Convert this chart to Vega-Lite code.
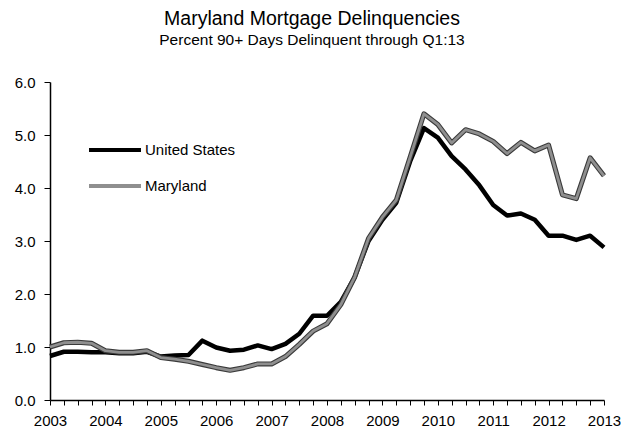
{
  "$schema": "https://vega.github.io/schema/vega-lite/v6.json",
  "width": 554,
  "height": 318,
  "autosize": {"type": "none"},
  "padding": {"left": 50, "top": 82, "right": 17, "bottom": 27},
  "background": "white",
  "config": {
    "font": "Liberation Sans",
    "view": {"stroke": null},
    "axis": {"grid": false, "domainColor": "black", "tickColor": "black", "labelColor": "black", "labelFontSize": 15, "domainWidth": 1.5, "tickWidth": 1}
  },
  "title": {
    "text": "Maryland Mortgage Delinquencies",
    "subtitle": "Percent 90+ Days Delinquent through Q1:13",
    "fontSize": 19.5,
    "fontWeight": "normal",
    "subtitleFontSize": 15.5,
    "subtitlePadding": 3,
    "color": "black",
    "subtitleColor": "black",
    "anchor": "middle",
    "frame": "group",
    "dx": -15,
    "offset": 26
  },
  "data": {
    "values": [
      {"t": 2003.00, "series": "United States", "v": 0.83}, {"t": 2003.00, "series": "Maryland", "v": 1.00},
      {"t": 2003.25, "series": "United States", "v": 0.91}, {"t": 2003.25, "series": "Maryland", "v": 1.08},
      {"t": 2003.50, "series": "United States", "v": 0.91}, {"t": 2003.50, "series": "Maryland", "v": 1.09},
      {"t": 2003.75, "series": "United States", "v": 0.90}, {"t": 2003.75, "series": "Maryland", "v": 1.07},
      {"t": 2004.00, "series": "United States", "v": 0.90}, {"t": 2004.00, "series": "Maryland", "v": 0.93},
      {"t": 2004.25, "series": "United States", "v": 0.88}, {"t": 2004.25, "series": "Maryland", "v": 0.90},
      {"t": 2004.50, "series": "United States", "v": 0.88}, {"t": 2004.50, "series": "Maryland", "v": 0.90},
      {"t": 2004.75, "series": "United States", "v": 0.91}, {"t": 2004.75, "series": "Maryland", "v": 0.93},
      {"t": 2005.00, "series": "United States", "v": 0.82}, {"t": 2005.00, "series": "Maryland", "v": 0.80},
      {"t": 2005.25, "series": "United States", "v": 0.84}, {"t": 2005.25, "series": "Maryland", "v": 0.77},
      {"t": 2005.50, "series": "United States", "v": 0.85}, {"t": 2005.50, "series": "Maryland", "v": 0.73},
      {"t": 2005.75, "series": "United States", "v": 1.12}, {"t": 2005.75, "series": "Maryland", "v": 0.67},
      {"t": 2006.00, "series": "United States", "v": 0.99}, {"t": 2006.00, "series": "Maryland", "v": 0.61},
      {"t": 2006.25, "series": "United States", "v": 0.93}, {"t": 2006.25, "series": "Maryland", "v": 0.56},
      {"t": 2006.50, "series": "United States", "v": 0.95}, {"t": 2006.50, "series": "Maryland", "v": 0.61},
      {"t": 2006.75, "series": "United States", "v": 1.03}, {"t": 2006.75, "series": "Maryland", "v": 0.68},
      {"t": 2007.00, "series": "United States", "v": 0.96}, {"t": 2007.00, "series": "Maryland", "v": 0.68},
      {"t": 2007.25, "series": "United States", "v": 1.06}, {"t": 2007.25, "series": "Maryland", "v": 0.82},
      {"t": 2007.50, "series": "United States", "v": 1.25}, {"t": 2007.50, "series": "Maryland", "v": 1.05},
      {"t": 2007.75, "series": "United States", "v": 1.59}, {"t": 2007.75, "series": "Maryland", "v": 1.30},
      {"t": 2008.00, "series": "United States", "v": 1.59}, {"t": 2008.00, "series": "Maryland", "v": 1.44},
      {"t": 2008.25, "series": "United States", "v": 1.85}, {"t": 2008.25, "series": "Maryland", "v": 1.80},
      {"t": 2008.50, "series": "United States", "v": 2.32}, {"t": 2008.50, "series": "Maryland", "v": 2.32},
      {"t": 2008.75, "series": "United States", "v": 3.00}, {"t": 2008.75, "series": "Maryland", "v": 3.05},
      {"t": 2009.00, "series": "United States", "v": 3.40}, {"t": 2009.00, "series": "Maryland", "v": 3.45},
      {"t": 2009.25, "series": "United States", "v": 3.72}, {"t": 2009.25, "series": "Maryland", "v": 3.77},
      {"t": 2009.50, "series": "United States", "v": 4.50}, {"t": 2009.50, "series": "Maryland", "v": 4.58},
      {"t": 2009.75, "series": "United States", "v": 5.13}, {"t": 2009.75, "series": "Maryland", "v": 5.40},
      {"t": 2010.00, "series": "United States", "v": 4.95}, {"t": 2010.00, "series": "Maryland", "v": 5.20},
      {"t": 2010.25, "series": "United States", "v": 4.60}, {"t": 2010.25, "series": "Maryland", "v": 4.85},
      {"t": 2010.50, "series": "United States", "v": 4.35}, {"t": 2010.50, "series": "Maryland", "v": 5.10},
      {"t": 2010.75, "series": "United States", "v": 4.05}, {"t": 2010.75, "series": "Maryland", "v": 5.02},
      {"t": 2011.00, "series": "United States", "v": 3.68}, {"t": 2011.00, "series": "Maryland", "v": 4.88},
      {"t": 2011.25, "series": "United States", "v": 3.48}, {"t": 2011.25, "series": "Maryland", "v": 4.65},
      {"t": 2011.50, "series": "United States", "v": 3.52}, {"t": 2011.50, "series": "Maryland", "v": 4.86},
      {"t": 2011.75, "series": "United States", "v": 3.40}, {"t": 2011.75, "series": "Maryland", "v": 4.70},
      {"t": 2012.00, "series": "United States", "v": 3.10}, {"t": 2012.00, "series": "Maryland", "v": 4.81},
      {"t": 2012.25, "series": "United States", "v": 3.10}, {"t": 2012.25, "series": "Maryland", "v": 3.87},
      {"t": 2012.50, "series": "United States", "v": 3.02}, {"t": 2012.50, "series": "Maryland", "v": 3.80},
      {"t": 2012.75, "series": "United States", "v": 3.10}, {"t": 2012.75, "series": "Maryland", "v": 4.57},
      {"t": 2013.00, "series": "United States", "v": 2.88}, {"t": 2013.00, "series": "Maryland", "v": 4.23}
    ]
  },
  "encoding": {
    "x": {
      "field": "t", "type": "quantitative",
      "scale": {"domain": [2003, 2013], "nice": false, "zero": false},
      "axis": {
        "title": null,
        "values": [2003, 2003.25, 2003.5, 2003.75, 2004, 2004.25, 2004.5, 2004.75, 2005, 2005.25, 2005.5, 2005.75, 2006, 2006.25, 2006.5, 2006.75, 2007, 2007.25, 2007.5, 2007.75, 2008, 2008.25, 2008.5, 2008.75, 2009, 2009.25, 2009.5, 2009.75, 2010, 2010.25, 2010.5, 2010.75, 2011, 2011.25, 2011.5, 2011.75, 2012, 2012.25, 2012.5, 2012.75, 2013],
        "labelExpr": "datum.value % 1 == 0 ? format(datum.value, 'd') : ''",
        "labelOverlap": false,
        "labelFlush": false,
        "tickSize": 5,
        "labelPadding": 8
      }
    },
    "y": {
      "field": "v", "type": "quantitative",
      "scale": {"domain": [0, 6], "nice": false},
      "axis": {"title": null, "values": [0, 1, 2, 3, 4, 5, 6], "format": ".1f", "tickSize": 6, "labelPadding": 9}
    }
  },
  "layer": [
    {
      "transform": [{"filter": "datum.series == 'United States'"}],
      "mark": {"type": "line", "strokeWidth": 4.5, "strokeJoin": "round"},
      "encoding": {
        "color": {
          "field": "series", "type": "nominal",
          "scale": {"domain": ["United States", "Maryland"], "range": ["#000000", "#8f8f8f"]},
          "legend": {
            "title": null,
            "orient": "none",
            "legendX": 37,
            "legendY": 40,
            "symbolType": "stroke",
            "symbolSize": 2700,
            "symbolStrokeWidth": 4,
            "labelFontSize": 15,
            "labelColor": "black",
            "labelOffset": 2,
            "rowPadding": -21,
            "padding": 0
          }
        }
      }
    },
    {
      "transform": [{"filter": "datum.series == 'Maryland'"}],
      "mark": {"type": "line", "strokeWidth": 5, "color": "#3a3a3a", "strokeJoin": "round"},
      "encoding": {}
    },
    {
      "transform": [{"filter": "datum.series == 'Maryland'"}],
      "mark": {"type": "line", "strokeWidth": 2.8, "strokeJoin": "round"},
      "encoding": {
        "color": {"field": "series", "type": "nominal"}
      }
    }
  ]
}
